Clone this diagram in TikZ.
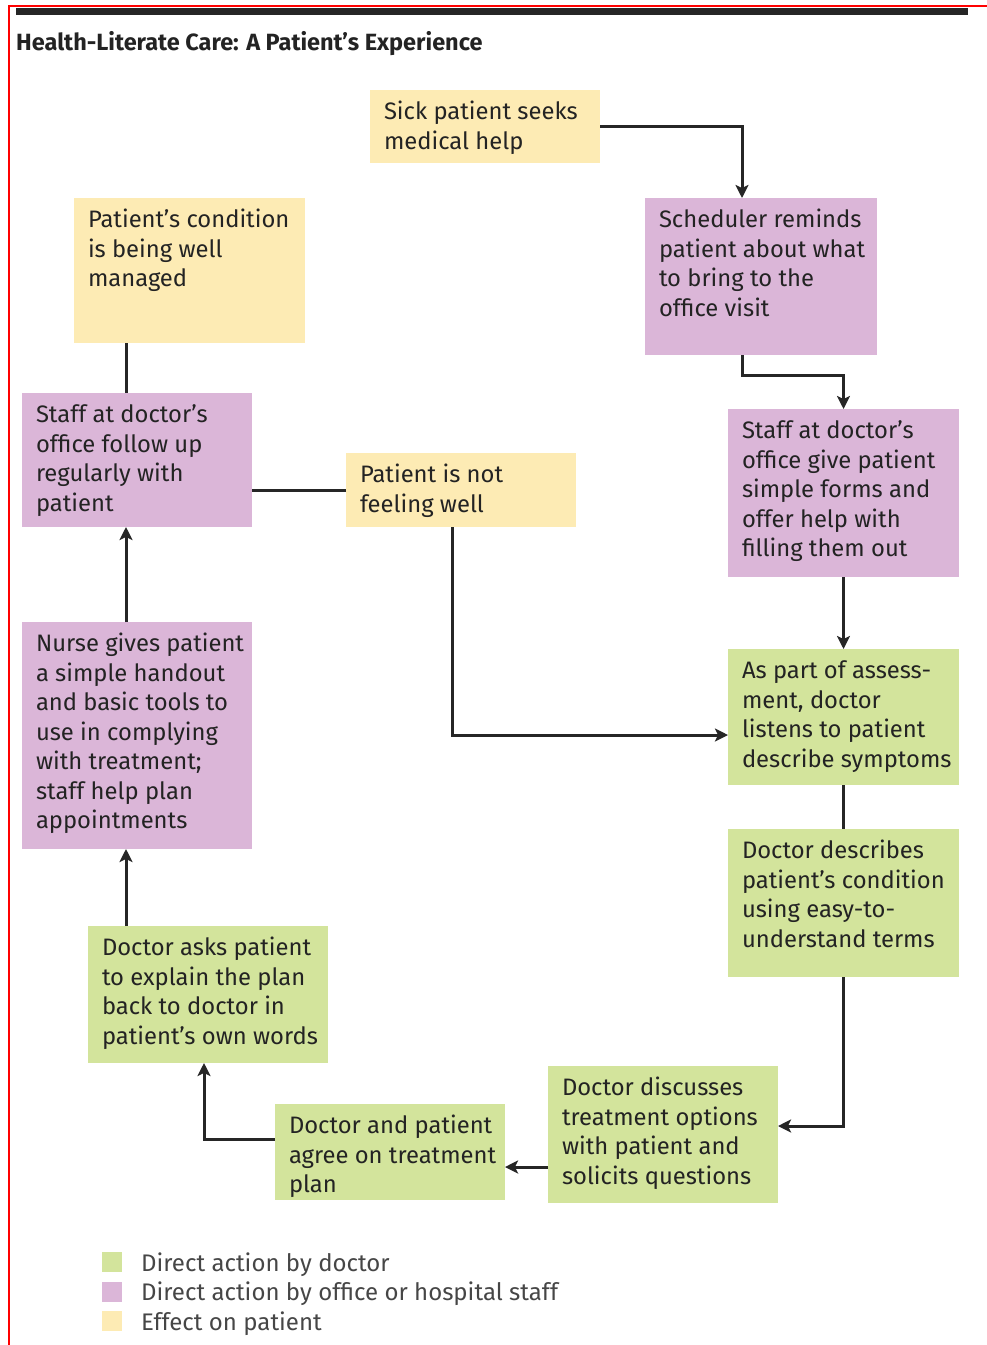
\documentclass[tikz,border=0pt]{standalone}
\usepackage{fontspec}
\setmainfont{Fira Sans}
\usetikzlibrary{arrows.meta}
\definecolor{cy}{RGB}{253,235,180}
\definecolor{cp}{RGB}{219,182,216}
\definecolor{cg}{RGB}{211,228,156}
\definecolor{tx}{RGB}{35,35,35}
\definecolor{lg}{RGB}{70,70,70}
\newcommand{\bxt}[3]{\parbox[c][#2][t]{#1}{\fontsize{23.8}{29.5}\selectfont\raggedright\leftskip=14pt\vspace*{9pt}\strut#3}}
\tikzset{
  box/.style={inner sep=0pt, outer sep=0pt, anchor=north west, text=tx},
  conn/.style={line width=3pt, draw=black!85},
  arr/.style={conn, -{Stealth[length=13pt,width=13pt,inset=3pt]}},
  lsq/.style={inner sep=0pt, minimum size=20pt},
  ltx/.style={anchor=base west, inner sep=0pt, text=lg, font=\fontsize{24}{28}\selectfont},
}
\begin{document}
\begin{tikzpicture}[x=1pt,y=-1pt]
\useasboundingbox (0,0) rectangle (987,1345);
% frame
\draw[red, line width=2pt] (9,1345) -- (9,6) -- (987,6);
\fill[black!85] (16,8) rectangle (968,15);
\node[anchor=base west, inner sep=0pt, text=tx, font=\bfseries\fontsize{23.5}{28}\selectfont] (title) at (16,50) {Health-Literate Care: A Patient’s Experience};
% boxes
\node[box, fill=cy] (s1) at (370,90) {\bxt{230pt}{73pt}{Sick patient seeks\\medical help}};
\node[box, fill=cp] (s2) at (645,198) {\bxt{232pt}{157pt}{Scheduler reminds\\patient about what\\to bring to the\\office visit}};
\node[box, fill=cy] (s3) at (74,198) {\bxt{231pt}{145pt}{Patient’s condition\\is being well\\managed}};
\node[box, fill=cp] (s4) at (22,393) {\bxt{230pt}{134pt}{Staff at doctor’s\\office follow up\\regularly with\\patient}};
\node[box, fill=cy] (s5) at (346,453) {\bxt{230pt}{74pt}{Patient is not\\feeling well}};
\node[box, fill=cp] (s6) at (728,409) {\bxt{231pt}{168pt}{Staff at doctor’s\\office give patient\\simple forms and\\offer help with\\filling them out}};
\node[box, fill=cp] (s7) at (22,622) {\bxt{230pt}{227pt}{Nurse gives patient\\a simple handout\\and basic tools to\\use in complying\\with treatment;\\staff help plan\\appointments}};
\node[box, fill=cg] (s8) at (728,649) {\bxt{231pt}{136pt}{As part of assess-\\ment, doctor\\listens to patient\\describe symptoms}};
\node[box, fill=cg] (s9) at (728,829) {\bxt{231pt}{148pt}{Doctor describes\\patient’s condition\\using easy-to-\\understand terms}};
\node[box, fill=cg] (s10) at (88,926) {\bxt{240pt}{137pt}{Doctor asks patient\\to explain the plan\\back to doctor in\\patient’s own words}};
\node[box, fill=cg] (s11) at (548,1066) {\bxt{230pt}{137pt}{Doctor discusses\\treatment options\\with patient and\\solicits questions}};
\node[box, fill=cg] (s12) at (275,1104) {\bxt{230pt}{96pt}{Doctor and patient\\agree on treatment\\plan}};
% connectors
\draw[arr] (s1.east) -| ([xshift=-19pt]s2.north);
\draw[arr] ([xshift=-19pt]s2.south) -- ++(0,20) -| (s6.north);
\draw[arr] (s6.south) -- (s8.north);
\draw[conn] (s8.south) -- (s9.north);
\draw[arr] (s9.south) |- ([yshift=8.5pt]s11.east);
\coordinate (a) at ([yshift=-32.5pt]s11.west);
\draw[arr] (a) -- (a -| s12.east);
\draw[arr] ([yshift=13pt]s12.west) -| ([xshift=-4pt]s10.south);
\coordinate (c) at ([xshift=38pt]s10.north west);
\draw[arr] (c) -- (c |- s7.south);
\draw[arr] (s7.north -| c) -- (s4.south -| c);
\draw[conn] (s4.north -| c) -- (s3.south -| c);
\draw[conn] (s5.west) -- (s5.west -| s4.east);
\draw[arr] ([xshift=-9pt]s5.south) |- ([yshift=-18pt]s8.west);
% legend
\node[lsq, fill=cg] (l1) at (112,1262) {};
\node[lsq, fill=cp] (l2) at (112,1292) {};
\node[lsq, fill=cy] (l3) at (112,1321) {};
\node[ltx] (t1) at (141,1271) {Direct action by doctor};
\node[ltx] (t2) at (141,1300) {Direct action by office or hospital staff};
\node[ltx] (t3) at (141,1330) {Effect on patient};
\end{tikzpicture}
\end{document}
